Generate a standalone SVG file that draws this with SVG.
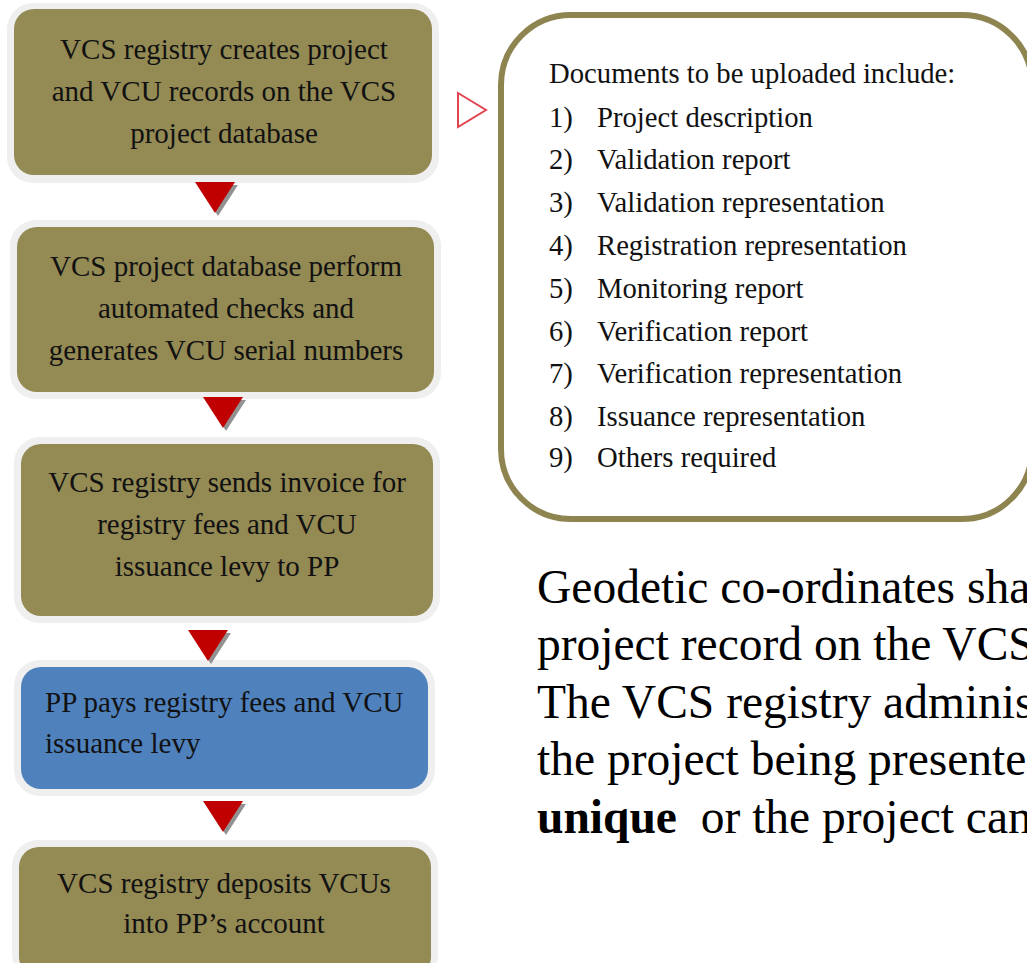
<svg xmlns="http://www.w3.org/2000/svg" xmlns:xlink="http://www.w3.org/1999/xlink" width="1027" height="963" viewBox="0 0 1027 963">
<defs>
<style>
.halo{fill:#EFEFEF}
.olive{fill:#948A54}
.blue{fill:#4F81BD}
.bt{font-family:"Liberation Serif","Times New Roman",serif;font-size:29px;fill:#111}
.c{text-anchor:middle}
.lt{font-family:"Liberation Serif","Times New Roman",serif;font-size:28.7px;fill:#111}
.para{font-family:"Liberation Serif","Times New Roman",serif;font-size:47.5px;fill:#000;white-space:pre}
</style>
<path id="tri" d="M-20,0 L20,0 L0,31 Z"/>
</defs>
<rect width="1027" height="963" fill="#FFFFFF"/>

<g id="node1">
<rect class="halo" x="7" y="3" width="432" height="180" rx="26"/>
<rect class="olive" x="14" y="9" width="418" height="166" rx="20"/>
<text class="bt c" x="224" y="59">VCS registry creates project</text>
<text class="bt c" x="224" y="101">and VCU records on the VCS</text>
<text class="bt c" x="224" y="143">project database</text>
</g>

<g id="node2">
<rect class="halo" x="10" y="220" width="431" height="179" rx="26"/>
<rect class="olive" x="17" y="227" width="417" height="165" rx="20"/>
<text class="bt c" x="226" y="276">VCS project database perform</text>
<text class="bt c" x="226" y="318">automated checks and</text>
<text class="bt c" x="226" y="360">generates VCU serial numbers</text>
</g>

<g id="node3">
<rect class="halo" x="14" y="437" width="426" height="186" rx="26"/>
<rect class="olive" x="21" y="444" width="412" height="172" rx="20"/>
<text class="bt c" x="227" y="492">VCS registry sends invoice for</text>
<text class="bt c" x="227" y="534">registry fees and VCU</text>
<text class="bt c" x="227" y="576">issuance levy to PP</text>
</g>

<g id="node4">
<rect class="halo" x="14" y="660" width="421" height="136" rx="26"/>
<rect class="blue" x="21" y="667" width="407" height="122" rx="20"/>
<text class="bt" x="45" y="712">PP pays registry fees and VCU</text>
<text class="bt" x="45" y="753">issuance levy</text>
</g>

<g id="node5">
<rect class="halo" x="12" y="840" width="426" height="140" rx="26"/>
<rect class="olive" x="19" y="847" width="412" height="130" rx="20"/>
<text class="bt c" x="224" y="893">VCS registry deposits VCUs</text>
<text class="bt c" x="224" y="933">into PP’s account</text>
</g>

<g id="connectors">
<g fill="#7F7F7F" opacity="0.85">
<use xlink:href="#tri" x="218" y="185"/>
<use xlink:href="#tri" x="226" y="400"/>
<use xlink:href="#tri" x="211" y="633"/>
<use xlink:href="#tri" x="226" y="804"/>
</g>
<g fill="#C00000">
<use xlink:href="#tri" x="215" y="182"/>
<use xlink:href="#tri" x="223" y="397"/>
<use xlink:href="#tri" x="208" y="630"/>
<use xlink:href="#tri" x="223" y="801"/>
</g>
<path d="M458,93 L486,110 L458,127 Z" fill="#FFFFFF" stroke="#E0444F" stroke-width="2"/>
</g>

<g id="docs">
<rect x="501" y="15" width="531" height="504" rx="70" fill="#FFFFFF" stroke="#8E8450" stroke-width="6"/>
<text class="lt" x="549" y="83">Documents to be uploaded include:</text>
<g class="lt">
<text x="549" y="127">1)</text><text x="597" y="127">Project description</text>
<text x="549" y="169">2)</text><text x="597" y="169">Validation report</text>
<text x="549" y="212">3)</text><text x="597" y="212">Validation representation</text>
<text x="549" y="255">4)</text><text x="597" y="255">Registration representation</text>
<text x="549" y="298">5)</text><text x="597" y="298">Monitoring report</text>
<text x="549" y="341">6)</text><text x="597" y="341">Verification report</text>
<text x="549" y="383">7)</text><text x="597" y="383">Verification representation</text>
<text x="549" y="426">8)</text><text x="597" y="426">Issuance representation</text>
<text x="549" y="467">9)</text><text x="597" y="467">Others required</text>
</g>
</g>

<g id="note">
<text class="para" x="537" y="603">Geodetic co-ordinates sha</text>
<text class="para" x="537" y="660">project record on the VCS</text>
<text class="para" x="537" y="718">The VCS registry adminis</text>
<text class="para" x="537" y="775">the project being presente</text>
<text class="para" x="537" y="833" xml:space="preserve"><tspan font-weight="bold">unique</tspan>  or the project can</text>
</g>
</svg>
